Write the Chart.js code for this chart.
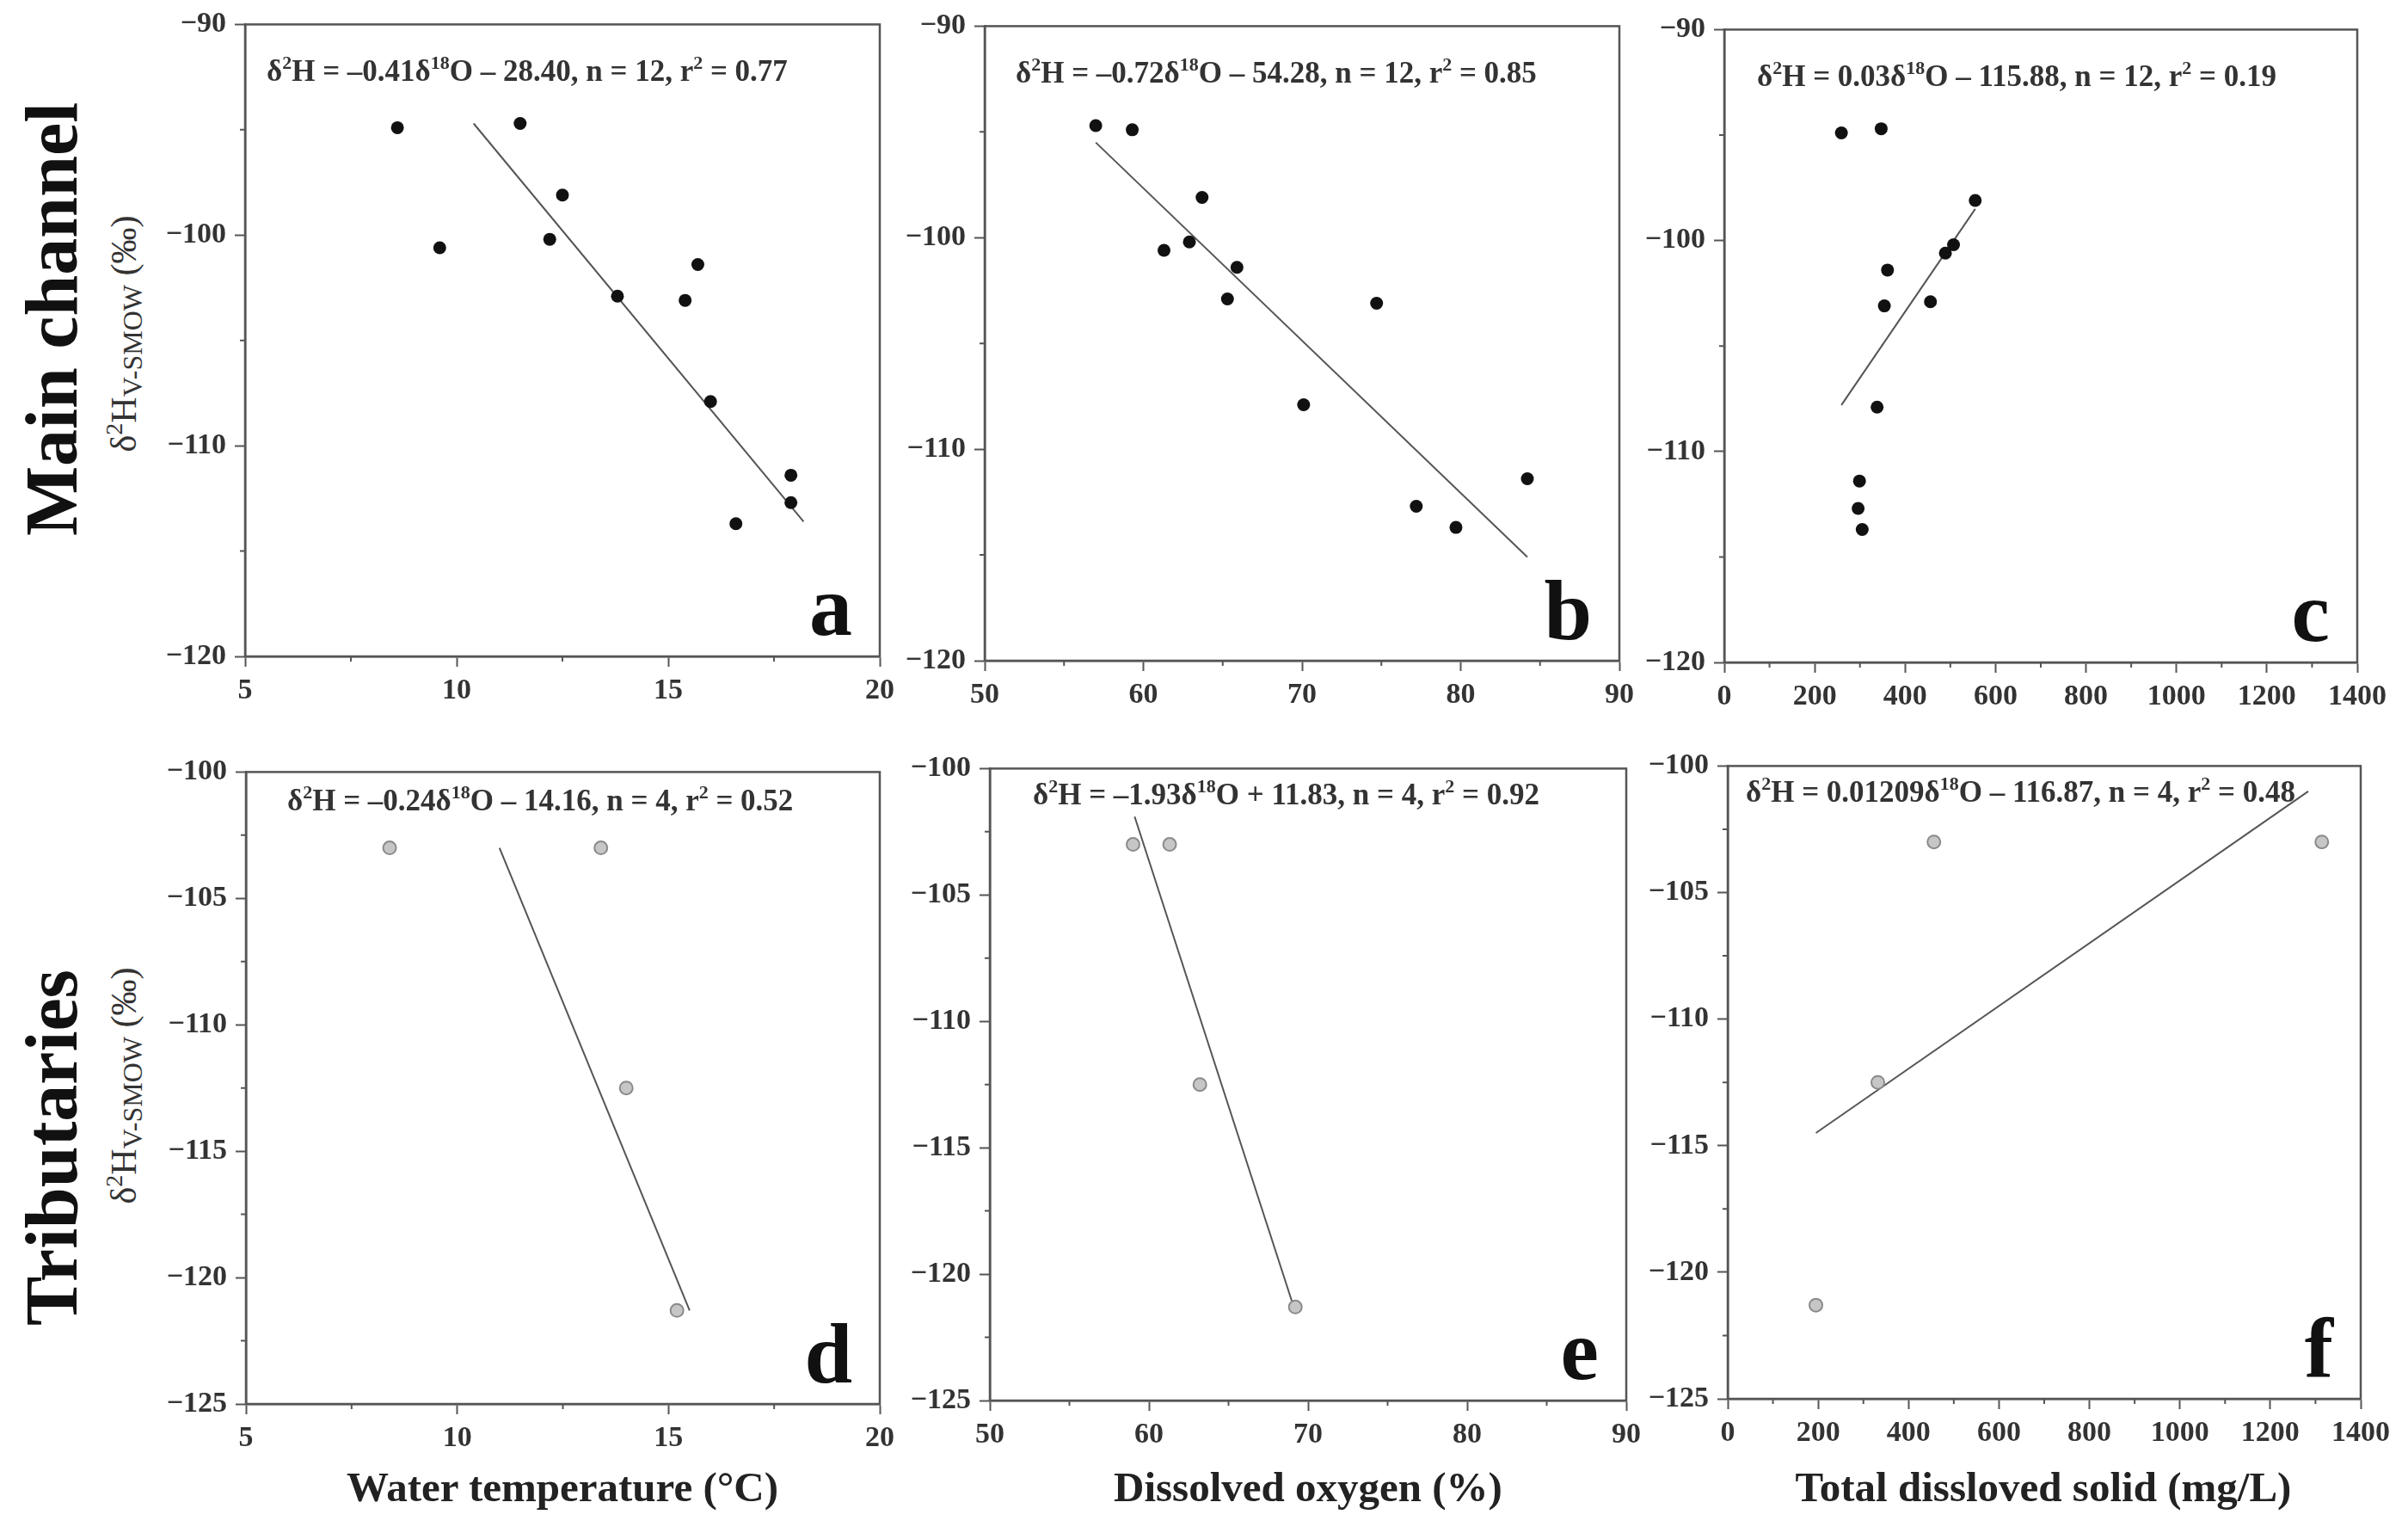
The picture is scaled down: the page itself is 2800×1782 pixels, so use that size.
<!DOCTYPE html>
<html>
<head>
<meta charset="utf-8">
<script src="https://cdn.jsdelivr.net/npm/chart.js@4.4.1/dist/chart.umd.min.js"></script>
<style>
  body { margin: 0; background: #fff; width: 2800px; height: 1782px; position: relative; overflow: hidden;
         font-family: "Liberation Serif", "DejaVu Serif", serif; color: #222; }
  .panel { position: absolute; }
  .rot { position: absolute; white-space: nowrap; line-height: 1; transform: translate(-50%, -50%) rotate(-90deg); }
  .row { font-size: 86px; font-weight: bold; color: #111; }
  .unit { font-size: 42px; color: #333; }
  .unit sup { font-size: 28px; line-height: 0; vertical-align: 16px; }
  .unit sub { font-size: 32px; line-height: 0; vertical-align: -7px; }
  .xt { position: absolute; white-space: nowrap; line-height: 1; transform: translate(-50%, -50%);
        font-weight: bold; font-size: 49px; color: #222; }
</style>
</head>
<body>

<div class="rot row" style="left:60px;top:371px">Main channel</div>
<div class="rot unit" style="left:144px;top:388px">δ<sup>2</sup>H<sub>V-SMOW</sub> (‰)</div>
<div class="rot row" style="left:60px;top:1334px">Tributaries</div>
<div class="rot unit" style="left:144px;top:1262px">δ<sup>2</sup>H<sub>V-SMOW</sub> (‰)</div>

<div class="xt" style="left:654px;top:1728px">Water temperature (°C)</div>
<div class="xt" style="left:1521px;top:1728px">Dissolved oxygen (%)</div>
<div class="xt" style="left:2376px;top:1728px">Total dissloved solid (mg/L)</div>

<script>
// ---- data ----
// main channel samples (same order in a, b, c)
const d2hMain  = [-94.7, -94.9, -98.1, -100.2, -100.6, -101.4, -102.9, -103.1, -107.9, -111.4, -112.7, -113.7];
const tempMain = [11.5, 8.6, 12.5, 12.2, 9.6, 15.7, 13.8, 15.4, 16.0, 17.9, 17.9, 16.6];
const doMain   = [57.0, 59.3, 63.7, 62.9, 61.3, 65.9, 65.3, 74.7, 70.1, 84.2, 77.2, 79.7];
const tdsMain  = [347, 259, 555, 507, 489, 361, 456, 354, 338, 299, 296, 305];

// tributary samples
const d2hTrib  = [-103.0, -103.0, -112.5, -121.3];
const tempTrib = [8.4, 13.4, 14.0, 15.2];
const doTrib   = [59.0, 61.3, 63.2, 69.2];
const tdsTrib  = [456, 1314, 332, 195];

// regression line end points
const fitA = { x: [10.4, 18.2], y: [-94.7, -113.6] };
const fitB = { x: [57.0, 84.2], y: [-95.5, -115.1] };
const fitC = { x: [259, 555], y: [-107.8, -98.5] };
const fitD = { x: [11.0, 15.5], y: [-103.0, -121.3] };
const fitE = { x: [59.1, 69.1], y: [-101.9, -121.3] };
const fitF = { x: [195, 1284], y: [-114.5, -101.0] };

const equations = [
  'δ^2H = –0.41δ^{18}O – 28.40, n = 12, r^2 = 0.77',
  'δ^2H = –0.72δ^{18}O – 54.28, n = 12, r^2 = 0.85',
  'δ^2H = 0.03δ^{18}O – 115.88, n = 12, r^2 = 0.19',
  'δ^2H = –0.24δ^{18}O – 14.16, n = 4, r^2 = 0.52',
  'δ^2H = –1.93δ^{18}O + 11.83, n = 4, r^2 = 0.92',
  'δ^2H = 0.01209δ^{18}O – 116.87, n = 4, r^2 = 0.48'
];
const letters = ['a', 'b', 'c', 'd', 'e', 'f'];

// axis ranges: [min, max, major step]
const xTemp = [5, 20, 5];
const xDO   = [50, 90, 10];
const xTDS  = [0, 1400, 200];
const yMain = [-120, -90, 10];
const yTrib = [-125, -100, 5];

// ---- layout ----
// plot rectangles in page pixels: left, top, right, bottom
const panels = [
  { rect: [285, 23, 1023, 763],    xs: tempMain, ys: d2hMain, fit: fitA, xr: xTemp, yr: yMain, trib: false, eq: [25, 66] },
  { rect: [1145, 25, 1883, 768],   xs: doMain,   ys: d2hMain, fit: fitB, xr: xDO,   yr: yMain, trib: false, eq: [36, 66] },
  { rect: [2005, 29, 2743, 770],   xs: tdsMain,  ys: d2hMain, fit: fitC, xr: xTDS,  yr: yMain, trib: false, eq: [38, 66] },
  { rect: [286, 892, 1023, 1632],  xs: tempTrib, ys: d2hTrib, fit: fitD, xr: xTemp, yr: yTrib, trib: true,  eq: [48, 45] },
  { rect: [1151, 888, 1891, 1628], xs: doTrib,   ys: d2hTrib, fit: fitE, xr: xDO,   yr: yTrib, trib: true,  eq: [50, 42] },
  { rect: [2009, 885, 2747, 1626], xs: tdsTrib,  ys: d2hTrib, fit: fitF, xr: xTDS,  yr: yTrib, trib: true,  eq: [21, 42] }
];

const AXIS = '#555';
const TEXT = '#333';
const FONT = '"Liberation Serif", "DejaVu Serif", serif';
const PAD_L = 150, PAD_T = 25, PAD_R = 40, PAD_B = 70;

function minusLabel(v) {
  return v < 0 ? '−' + Math.abs(v) : String(v);
}

// draws "text^2" / "text^{18}" with raised small digits
function drawEquation(ctx, str, x, y) {
  const parts = [];
  const re = /\^(\{[^}]*\}|.)/g;
  let last = 0, m;
  while ((m = re.exec(str))) {
    if (m.index > last) parts.push([str.slice(last, m.index), false]);
    parts.push([m[1].replace(/[{}]/g, ''), true]);
    last = re.lastIndex;
  }
  if (last < str.length) parts.push([str.slice(last), false]);
  ctx.fillStyle = TEXT;
  ctx.textBaseline = 'alphabetic';
  ctx.textAlign = 'left';
  parts.forEach(([t, sup]) => {
    ctx.font = sup ? `bold 22px ${FONT}` : `bold 35px ${FONT}`;
    ctx.fillText(t, x, sup ? y - 14 : y);
    x += ctx.measureText(t).width;
  });
}

const framePlugin = {
  id: 'frame',
  afterDraw(chart, args, opts) {
    const { ctx, chartArea: a, scales: { x, y } } = chart;
    ctx.save();
    // box around the plot
    ctx.strokeStyle = AXIS;
    ctx.lineWidth = 2.5;
    ctx.strokeRect(a.left, a.top, a.right - a.left, a.bottom - a.top);
    // minor ticks halfway between majors
    ctx.lineWidth = 2;
    ctx.beginPath();
    const xm = opts.xStep / 2;
    for (let v = x.min + xm; v < x.max; v += opts.xStep) {
      const px = x.getPixelForValue(v);
      ctx.moveTo(px, a.bottom); ctx.lineTo(px, a.bottom + 6);
    }
    const ym = opts.yStep / 2;
    for (let v = y.min + ym; v < y.max; v += opts.yStep) {
      const py = y.getPixelForValue(v);
      ctx.moveTo(a.left, py); ctx.lineTo(a.left - 6, py);
    }
    ctx.stroke();
    // regression equation
    drawEquation(ctx, opts.eq, a.left + opts.eqPos[0], a.top + opts.eqPos[1]);
    // panel letter
    ctx.fillStyle = '#111';
    ctx.font = `bold 100px ${FONT}`;
    ctx.textAlign = 'right';
    ctx.textBaseline = 'alphabetic';
    ctx.fillText(opts.letter, a.right - 32, a.bottom - 25);
    ctx.restore();
  }
};

panels.forEach((p, i) => {
  const [L, T, R, B] = p.rect;
  const w = (R - L) + PAD_L + PAD_R;
  const h = (B - T) + PAD_T + PAD_B;
  const div = document.createElement('div');
  div.className = 'panel';
  div.style.left = (L - PAD_L) + 'px';
  div.style.top = (T - PAD_T) + 'px';
  div.style.width = w + 'px';
  div.style.height = h + 'px';
  const cv = document.createElement('canvas');
  cv.width = w; cv.height = h;
  div.appendChild(cv);
  document.body.appendChild(div);

  const pts = p.xs.map((v, k) => ({ x: v, y: p.ys[k] }));
  const line = p.fit.x.map((v, k) => ({ x: v, y: p.fit.y[k] }));

  const tickFont = { family: FONT, size: 34, weight: 'bold' };

  new Chart(cv.getContext('2d'), {
    type: 'scatter',
    data: {
      datasets: [
        {
          data: pts,
          pointRadius: 7.5,
          pointHoverRadius: 7.5,
          backgroundColor: p.trib ? '#c6c6c6' : '#111',
          borderColor: p.trib ? '#8a8a8a' : '#111',
          borderWidth: p.trib ? 2 : 0
        },
        {
          data: line,
          showLine: true,
          pointRadius: 0,
          borderColor: '#555',
          borderWidth: 2,
          fill: false
        }
      ]
    },
    options: {
      responsive: false,
      animation: false,
      devicePixelRatio: 1,
      events: [],
      layout: { padding: { left: 0, top: PAD_T, right: PAD_R, bottom: 0 } },
      plugins: {
        legend: { display: false },
        tooltip: { enabled: false },
        frame: { eq: equations[i], eqPos: p.eq, letter: letters[i], xStep: p.xr[2], yStep: p.yr[2] }
      },
      scales: {
        x: {
          type: 'linear',
          min: p.xr[0], max: p.xr[1],
          ticks: { stepSize: p.xr[2], font: tickFont, color: TEXT, padding: 8, maxRotation: 0, callback: minusLabel },
          grid: { drawOnChartArea: false, tickLength: 12, tickWidth: 2, tickColor: AXIS },
          border: { color: AXIS, width: 2.5 },
          afterFit(s) { s.height = PAD_B; }
        },
        y: {
          type: 'linear',
          min: p.yr[0], max: p.yr[1],
          ticks: { stepSize: p.yr[2], font: tickFont, color: TEXT, padding: 10, callback: minusLabel },
          grid: { drawOnChartArea: false, tickLength: 12, tickWidth: 2, tickColor: AXIS },
          border: { color: AXIS, width: 2.5 },
          afterFit(s) { s.width = PAD_L; }
        }
      }
    },
    plugins: [framePlugin]
  });
});
</script>
</body>
</html>
